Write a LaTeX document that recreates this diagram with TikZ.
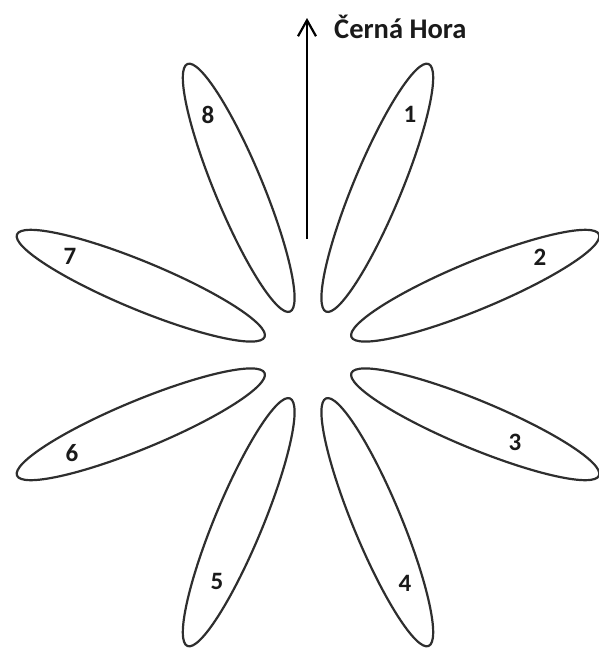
\documentclass[tikz,border=0pt]{standalone}
\usepackage{fontspec}
\setmainfont{Carlito}
\usetikzlibrary{arrows.meta, shapes.geometric}
\definecolor{outline}{HTML}{2E2E2E}
\definecolor{dktext}{HTML}{1A1A1A}

\begin{document}
\begin{tikzpicture}[
  x=1pt, y=-1pt,
  >={Straight Barb[length=16pt, width=18pt, line width=2.2pt]},
  petal/.style={
    ellipse, draw=outline, line width=2.2pt, inner sep=0pt,
    minimum width=268pt, minimum height=48pt
  },
  num/.style={font=\fontsize{25}{25}\selectfont\bfseries, text=dktext},
  arr/.style={->, line width=2.2pt, black},
]

% Canvas
\useasboundingbox (0,0) rectangle (599,648);

% ===== Petals =====
\node[petal, rotate=67.5]  (p1) at (377.3,187.8) {};
\node[petal, rotate=22.5]  (p2) at (475.2,285.7) {};
\node[petal, rotate=-22.5] (p3) at (475.2,424.3) {};
\node[petal, rotate=-67.5] (p4) at (377.3,522.2) {};
\node[petal, rotate=67.5]  (p5) at (238.7,522.2) {};
\node[petal, rotate=22.5]  (p6) at (140.8,424.3) {};
\node[petal, rotate=-22.5] (p7) at (140.8,285.7) {};
\node[petal, rotate=-67.5] (p8) at (238.7,187.8) {};

% ===== Numbers =====
\node[num] (n1) at (410,114) {1};
\node[num] (n2) at (540,257) {2};
\node[num] (n3) at (515,442) {3};
\node[num] (n4) at (405,583) {4};
\node[num] (n5) at (217,581) {5};
\node[num] (n6) at (72,453) {6};
\node[num] (n7) at (70,256) {7};
\node[num] (n8) at (208,115) {8};

% ===== North arrow =====
\coordinate (base) at (307,239);
\coordinate (north) at (307,18);
\draw[arr] (base) -- (north);
\node[anchor=base west, font=\fontsize{28.5}{28.5}\selectfont\bfseries, text=dktext,
      inner sep=0pt] (hora) at (334,38) {Černá Hora};

\end{tikzpicture}
\end{document}
